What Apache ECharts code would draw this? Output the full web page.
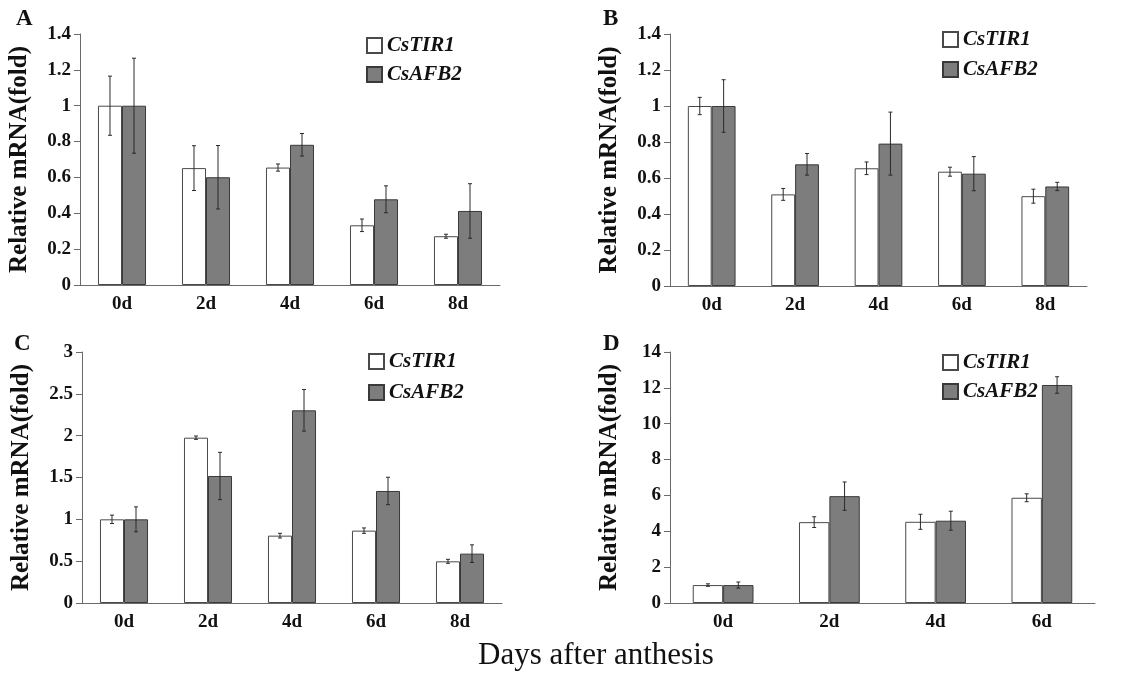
<!DOCTYPE html>
<html><head><meta charset="utf-8">
<script src="https://cdn.jsdelivr.net/npm/echarts@6/dist/echarts.min.js"></script>
<style>html,body{margin:0;padding:0;background:#fff}#c{width:1132px;height:681px}</style>
</head><body><div id="c"></div>
<script>
// ---- data ----
var catsABC = ['0d', '2d', '4d', '6d', '8d'];
var catsD = ['0d', '2d', '4d', '6d'];
var seriesNames = ['CsTIR1', 'CsAFB2'];

var A_TIR1 = [1.0, 0.652, 0.655, 0.333, 0.272];
var A_TIR1_err = [0.165, 0.125, 0.02, 0.035, 0.011];
var A_AFB2 = [1.0, 0.601, 0.782, 0.478, 0.413];
var A_AFB2_err = [0.265, 0.177, 0.063, 0.075, 0.152];

var B_TIR1 = [1.0, 0.509, 0.654, 0.635, 0.499];
var B_TIR1_err = [0.048, 0.033, 0.035, 0.025, 0.039];
var B_AFB2 = [1.0, 0.676, 0.791, 0.624, 0.553];
var B_AFB2_err = [0.146, 0.06, 0.175, 0.095, 0.023];

var C_TIR1 = [1.0, 1.976, 0.805, 0.865, 0.498];
var C_TIR1_err = [0.05, 0.02, 0.028, 0.032, 0.024];
var C_AFB2 = [1.0, 1.518, 2.303, 1.339, 0.59];
var C_AFB2_err = [0.149, 0.283, 0.249, 0.164, 0.105];

var D_TIR1 = [1.0, 4.51, 4.53, 5.87];
var D_TIR1_err = [0.07, 0.3, 0.42, 0.22];
var D_AFB2 = [1.0, 5.96, 4.59, 12.16];
var D_AFB2_err = [0.17, 0.79, 0.53, 0.46];

var panelLetters = ['A', 'B', 'C', 'D'];
var yAxisTitle = 'Relative mRNA(fold)';
var xAxisTitle = 'Days after anthesis';

// ---- styles ----
var FONT = '"Liberation Serif", "Times New Roman", serif';
var BAR_RATIO = 0.286;
var WHITE = '#ffffff', GREY = '#7d7d7d';

var grids = [
  {left: 80, top: 34, width: 420, height: 251},
  {left: 670, top: 34, width: 417, height: 252},
  {left: 82, top: 352, width: 420, height: 251},
  {left: 670, top: 352, width: 425, height: 251}
];
var yScales = [
  {max: 1.4, interval: 0.2},
  {max: 1.4, interval: 0.2},
  {max: 3, interval: 0.5},
  {max: 14, interval: 2}
];
var legendPos = [
  {left: 366, top: 35, itemGap: 8},
  {left: 942, top: 29, itemGap: 9},
  {left: 368, top: 351, itemGap: 10},
  {left: 942, top: 352, itemGap: 8}
];
var letterPos = [
  {left: 16, top: 8}, {left: 603, top: 8}, {left: 14, top: 333}, {left: 603, top: 333}
];
var panels = [
  {cats: catsABC, t: A_TIR1, te: A_TIR1_err, a: A_AFB2, ae: A_AFB2_err},
  {cats: catsABC, t: B_TIR1, te: B_TIR1_err, a: B_AFB2, ae: B_AFB2_err},
  {cats: catsABC, t: C_TIR1, te: C_TIR1_err, a: C_AFB2, ae: C_AFB2_err},
  {cats: catsD, t: D_TIR1, te: D_TIR1_err, a: D_AFB2, ae: D_AFB2_err}
];

function errRender(sign) {
  return function (params, api) {
    var i = api.value(0), v = api.value(1), e = api.value(2);
    var cat = api.size([1, 0])[0];
    var cx = api.coord([i, v])[0] + sign * cat * BAR_RATIO / 2;
    var top = api.coord([i, v + e])[1];
    var bot = api.coord([i, v - e])[1];
    var cap = 2;
    var st = {stroke: '#2a2a2a', lineWidth: 1};
    return {type: 'group', children: [
      {type: 'line', shape: {x1: cx, y1: top, x2: cx, y2: bot}, style: st},
      {type: 'line', shape: {x1: cx - cap, y1: top, x2: cx + cap, y2: top}, style: st},
      {type: 'line', shape: {x1: cx - cap, y1: bot, x2: cx + cap, y2: bot}, style: st}
    ]};
  };
}

var option = {
  backgroundColor: '#fff',
  animation: false,
  title: [],
  grid: [], xAxis: [], yAxis: [], legend: [], series: []
};

panels.forEach(function (p, k) {
  option.grid.push(grids[k]);
  option.xAxis.push({
    type: 'category', gridIndex: k, data: p.cats, boundaryGap: true,
    axisLine: {lineStyle: {color: '#6a6a6a', width: 1}},
    axisTick: {show: false},
    axisLabel: {fontFamily: FONT, fontWeight: 'bold', fontSize: 19, color: '#111', margin: 10}
  });
  option.yAxis.push({
    type: 'value', gridIndex: k, min: 0, max: yScales[k].max, interval: yScales[k].interval,
    name: yAxisTitle, nameLocation: 'middle', nameGap: 48,
    nameTextStyle: {fontFamily: FONT, fontWeight: 'bold', fontSize: 25, color: '#111'},
    splitLine: {show: false},
    axisLine: {show: true, lineStyle: {color: '#6a6a6a', width: 1}},
    axisTick: {show: true, length: 6, inside: false, lineStyle: {color: '#6a6a6a'}},
    axisLabel: {fontFamily: FONT, fontWeight: 'bold', fontSize: 19, color: '#111', margin: 9}
  });
  option.legend.push({
    orient: 'vertical', left: legendPos[k].left, top: legendPos[k].top, itemGap: legendPos[k].itemGap,
    padding: 0, itemWidth: 15, itemHeight: 15, icon: 'rect', data: seriesNames, selectedMode: false,
    textStyle: {fontFamily: FONT, fontWeight: 'bold', fontStyle: 'italic', fontSize: 21, color: '#111'}
  });
  option.title.push({
    text: panelLetters[k], left: letterPos[k].left, top: letterPos[k].top, padding: 0,
    textStyle: {fontFamily: FONT, fontWeight: 'bold', fontSize: 23, color: '#111'}
  });
  option.series.push({
    name: seriesNames[0], type: 'bar', xAxisIndex: k, yAxisIndex: k, data: p.t,
    barWidth: (BAR_RATIO * 100) + '%', barGap: '0%',
    itemStyle: {color: WHITE, borderColor: '#4a4a4a', borderWidth: 1}
  });
  option.series.push({
    name: seriesNames[1], type: 'bar', xAxisIndex: k, yAxisIndex: k, data: p.a,
    barWidth: (BAR_RATIO * 100) + '%', barGap: '0%',
    itemStyle: {color: GREY, borderColor: '#3a3a3a', borderWidth: 1}
  });
  option.series.push({
    type: 'custom', xAxisIndex: k, yAxisIndex: k, renderItem: errRender(-1), z: 5,
    data: p.t.map(function (v, i) { return [i, v, p.te[i]]; }), encode: {x: 0, y: 1}
  });
  option.series.push({
    type: 'custom', xAxisIndex: k, yAxisIndex: k, renderItem: errRender(1), z: 5,
    data: p.a.map(function (v, i) { return [i, v, p.ae[i]]; }), encode: {x: 0, y: 1}
  });
});

option.title.push({
  text: xAxisTitle, left: 478, top: 640, padding: 0,
  textStyle: {fontFamily: FONT, fontWeight: 'normal', fontSize: 31, color: '#111'}
});

var chart = echarts.init(document.getElementById('c'));
chart.setOption(option);
</script>
</body></html>
